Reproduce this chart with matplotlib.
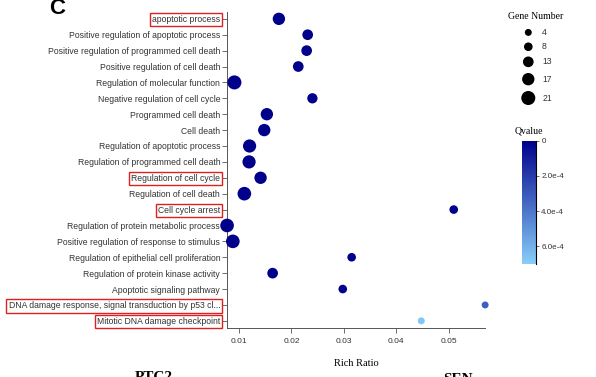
import numpy as np
import matplotlib
matplotlib.use('Agg')
import matplotlib.pyplot as plt
from matplotlib.colors import LinearSegmentedColormap, Normalize

# ---------------------------------------------------------------------------
# GO enrichment terms (top to bottom)
# ---------------------------------------------------------------------------
terms = [
    'apoptotic process',
    'Positive regulation of apoptotic process',
    'Positive regulation of programmed cell death',
    'Positive regulation of cell death',
    'Regulation of molecular function',
    'Negative regulation of cell cycle',
    'Programmed cell death',
    'Cell death',
    'Regulation of apoptotic process',
    'Regulation of programmed cell death',
    'Regulation of cell cycle',
    'Regulation of cell death',
    'Cell cycle arrest',
    'Regulation of protein metabolic process',
    'Positive regulation of response to stimulus',
    'Regulation of epithelial cell proliferation',
    'Regulation of protein kinase activity',
    'Apoptotic signaling pathway',
    'DNA damage response, signal transduction by p53 cl...',
    'Mitotic DNA damage checkpoint',
]
rich_ratio = [0.0176, 0.0231, 0.0229, 0.0213, 0.0091, 0.0240, 0.0153, 0.0148,
              0.0120, 0.0119, 0.0141, 0.0110, 0.0510, 0.0077, 0.0088, 0.0315,
              0.0164, 0.0298, 0.0570, 0.0448]
gene_number = [17, 13, 13, 13, 21, 12, 17, 17,
               19, 19, 17, 20, 8, 20, 20, 8,
               13, 8, 4, 4]
qvalue = [1e-8, 2e-8, 2e-8, 3e-8, 1e-9, 4e-8, 1e-8, 1e-8,
          1e-9, 1e-9, 1e-8, 1e-9, 3e-6, 1e-9, 1e-9, 5e-6,
          2e-8, 4e-6, 3.2e-4, 6.7e-4]
highlighted = ['apoptotic process', 'Regulation of cell cycle', 'Cell cycle arrest',
               'DNA damage response, signal transduction by p53 cl...',
               'Mitotic DNA damage checkpoint']

legend_counts = [4, 8, 13, 17, 21]
x_ticks = [0.01, 0.02, 0.03, 0.04, 0.05]
q_ticks = [0, 2e-4, 4e-4, 6e-4]
q_ticklabels = ['0', '2.0e-4', '4.0e-4', '6.0e-4']

SANS = ['Liberation Sans', 'DejaVu Sans']
SERIF = ['Liberation Serif', 'DejaVu Serif']
plt.rcParams['font.family'] = SANS

cmap = LinearSegmentedColormap.from_list('q', ['#00008B', '#87CEFA'])
norm = Normalize(vmin=0, vmax=7e-4)


def marker_area(n):
    # diameter in points grows linearly with gene count
    d = 3.8 + 0.30 * np.asarray(n, dtype=float)
    return d ** 2


fig = plt.figure(figsize=(5.96, 3.77), dpi=100)
ax = fig.add_axes([0.381, 0.130, 0.433, 0.839])

y = np.arange(len(terms))
ax.scatter(rich_ratio, y, s=marker_area(gene_number), c=qvalue, cmap=cmap,
           norm=norm, edgecolors='none', clip_on=False, zorder=3)

ax.set_ylim(len(terms) - 0.55, -0.45)
ax.set_xlim(0.0077, 0.057)
ax.set_yticks(y)
ax.set_yticklabels(terms, fontsize=6.2, color='#333333')
ax.set_xticks(x_ticks)
ax.set_xticklabels([f'{t:.2f}' for t in x_ticks], fontsize=6.0, color='#333333')
ax.tick_params(axis='both', length=3.5, width=0.6, color='#555555', pad=1.5)
ax.tick_params(axis='x', pad=4)
for side in ('top', 'right'):
    ax.spines[side].set_visible(False)
for side in ('left', 'bottom'):
    ax.spines[side].set_color('#555555')
    ax.spines[side].set_linewidth(0.7)

for lab in ax.get_yticklabels():
    if lab.get_text() in highlighted:
        lab.set_bbox(dict(boxstyle='square,pad=0.25', facecolor='none',
                          edgecolor='#e02020', linewidth=1.0))

ax.set_xlabel('Rich Ratio', fontsize=7.5, family=SERIF, labelpad=10)

# gene number size legend
lax = fig.add_axes([0.86, 0.72, 0.08, 0.2])
lax.set_xlim(0, 1)
lax.set_ylim(len(legend_counts) - 0.5, -0.5)
lax.axis('off')
ly = np.array([-0.35, 0.6, 1.6, 2.75, 4.0])
lax.scatter(np.full(len(legend_counts), 0.33), ly, s=marker_area(legend_counts),
            color='black', edgecolors='none', clip_on=False)
for yy, n in zip(ly, legend_counts):
    lax.text(0.62, yy, str(n), fontsize=6.2, color='#333333', va='center')
fig.text(0.898, 0.955, 'Gene Number', fontsize=7, family=SERIF,
         ha='center', va='center')

# qvalue colorbar
cax = fig.add_axes([0.875, 0.300, 0.025, 0.327])
cb = fig.colorbar(plt.cm.ScalarMappable(norm=norm, cmap=cmap), cax=cax)
cb.outline.set_visible(False)
cax.invert_yaxis()
cb.set_ticks(q_ticks)
cb.set_ticklabels(q_ticklabels)
cax.tick_params(labelsize=5.8, labelcolor='#333333', length=2.5, width=0.6,
                color='#555555', pad=1)
cax.spines['right'].set_visible(True)
fig.text(0.887, 0.653, 'Qvalue', fontsize=7, family=SERIF, ha='center', va='center')

# panel letter and neighbouring panel titles
fig.text(0.083, 1.005, 'C', fontsize=16, fontweight='bold', va='top')
fig.text(0.258, -0.018, 'PTC2', fontsize=11, fontweight='bold', family=SERIF,
         ha='center', va='bottom')
fig.text(0.768, -0.025, 'SEN', fontsize=11, fontweight='bold', family=SERIF,
         ha='center', va='bottom')

fig.savefig('out.png', dpi=100)
